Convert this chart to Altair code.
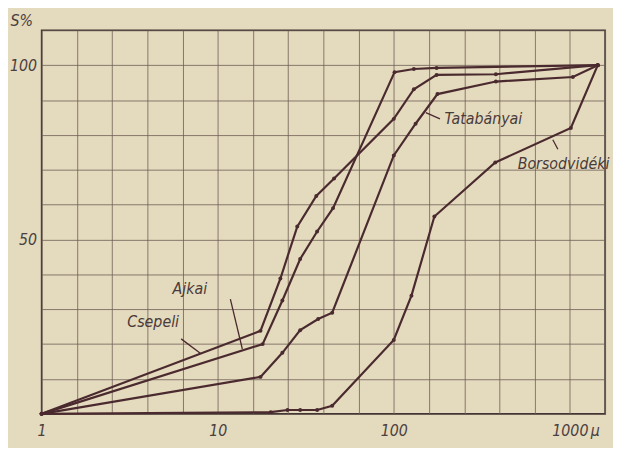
import altair as alt
import pandas as pd

# ---- data (particle size in micron, S %) ----
ajkai_x = [1, 18, 23.3, 29.4, 36.7, 45.2, 101, 130, 175, 1440]
ajkai_y = [0, 20.0, 32.5, 44.4, 52.3, 59.0, 98.0, 98.9, 99.2, 100]

csepeli_x = [1, 17.5, 22.7, 28.3, 36.3, 45.8, 100, 130, 175, 380, 1440]
csepeli_y = [0, 23.8, 38.8, 53.7, 62.5, 67.5, 84.6, 93.1, 97.2, 97.4, 100]

tatab_x = [1, 17.5, 23.3, 29.4, 37.2, 44.7, 100, 133, 177, 380, 1040, 1440]
tatab_y = [0, 10.6, 17.5, 24.0, 27.2, 29.0, 74.1, 83.2, 91.7, 95.3, 96.6, 100]

borsod_x = [1, 20, 24.9, 29.4, 36.7, 44.7, 100, 126, 170, 377, 1013, 1440]
borsod_y = [0, 0.5, 1.1, 1.1, 1.1, 2.3, 21.2, 33.9, 56.6, 72.1, 82.0, 100]

series_names = ["Ajkai", "Csepeli", "Tatabányai", "Borsodvidéki"]
series_x = [ajkai_x, csepeli_x, tatab_x, borsod_x]
series_y = [ajkai_y, csepeli_y, tatab_y, borsod_y]

# labels and their leader lines (data coordinates)
label_text = ["Ajkai", "Csepeli", "Tatabányai", "Borsodvidéki"]
label_x = [6.95, 4.3, 194, 505]
label_y = [35.7, 26.3, 84.4, 71.7]
label_align = ["center", "center", "left", "left"]

leader_x1 = [11.8, 6.2, 152, 800]
leader_y1 = [32.9, 21.5, 86.4, 78.6]
leader_x2 = [13.8, 8.0, 183, 855]
leader_y2 = [18.6, 17.3, 84.6, 75.9]

tick_values = [1, 10, 100, 1000]

x_grid = [10 ** (k / 5) for k in range(17)]
y_grid = list(range(0, 111, 10))

# ---- tables ----
rows = []
for name, xs, ys in zip(series_names, series_x, series_y):
    for i, (xv, yv) in enumerate(zip(xs, ys)):
        rows.append({"series": name, "d": xv, "s": yv, "order": i})
df = pd.DataFrame(rows)

labels = pd.DataFrame({"text": label_text, "d": label_x, "s": label_y, "align": label_align})
leaders = pd.DataFrame({"d": leader_x1, "s": leader_y1, "d2": leader_x2, "s2": leader_y2})
mu = pd.DataFrame({"d": [tick_values[-1]], "s": [0]})

INK = "#4a2a2e"
FONT = "DejaVu Sans Condensed, DejaVu Sans, Liberation Sans, sans-serif"
GRID = "#6e5e55"

xscale = alt.Scale(type="log", domain=[1, 10 ** 3.2], nice=False)
yscale = alt.Scale(domain=[0, 110], nice=False, zero=True)

xaxis = alt.Axis(
    values=x_grid, grid=True, ticks=False, domain=False, title=None,
    labelExpr="abs(log(datum.value)/LN10 - round(log(datum.value)/LN10)) < 0.001 ? format(datum.value, '.0f') : ''",
    labelOverlap=False, labelFlush=False, labelFont=FONT, labelFontStyle="italic",
    labelFontSize=16, labelColor="#4a4040", labelPadding=9,
    gridColor=GRID, gridWidth=1, gridOpacity=0.8,
)
yaxis = alt.Axis(
    values=y_grid, grid=True, ticks=False, domain=False,
    title="S%", titleAngle=0, titleAlign="left", titleX=-32, titleY=-10,
    titleFont=FONT, titleFontStyle="italic", titleFontWeight="normal",
    titleFontSize=16, titleColor="#4a4040", titleBaseline="middle",
    labelExpr="datum.value == 50 || datum.value == 100 ? datum.label : ''",
    labelOverlap=False, labelFlush=False,
    labelFont=FONT, labelFontStyle="italic", labelFontSize=16,
    labelColor="#4a4040", labelPadding=5,
    gridColor=GRID, gridWidth=1, gridOpacity=0.8,
)

X = alt.X("d:Q", scale=xscale, axis=xaxis)
Y = alt.Y("s:Q", scale=yscale, axis=yaxis)

base = alt.Chart(df)

lines = base.mark_line(color=INK, strokeWidth=2.2).encode(
    x=X, y=Y, detail="series:N", order="order:Q",
)
points = base.mark_circle(color=INK, size=16, opacity=1).encode(x=X, y=Y)

lead = alt.Chart(leaders).mark_rule(color=INK, strokeWidth=1.3).encode(
    x=X, y=Y, x2="d2:Q", y2="s2:Q",
)

txt_center = alt.Chart(labels).transform_filter("datum.align == 'center'").mark_text(
    font=FONT, fontStyle="italic", fontSize=16, color="#4a3a3a", align="center", baseline="middle"
).encode(x=X, y=Y, text="text:N")

txt_left = alt.Chart(labels).transform_filter("datum.align == 'left'").mark_text(
    font=FONT, fontStyle="italic", fontSize=16, color="#4a3a3a", align="left", baseline="middle"
).encode(x=X, y=Y, text="text:N")

mu_text = alt.Chart(mu).mark_text(
    text="μ", font=FONT, fontStyle="italic", fontSize=16, color="#4a4040",
    align="left", baseline="top", dx=21, dy=9,
).encode(x=X, y=Y)

chart = alt.layer(lines, points, lead, txt_center, txt_left, mu_text).properties(
    width=570, height=388,
    autosize=alt.AutoSizeParams(type="none"),
    padding={"left": 34, "top": 20, "right": 8, "bottom": 32},
    background="#e4dabe",
).configure_view(
    stroke="#3e3232", strokeWidth=1.6, fill="#e4dabe"
)

chart.save("out.html", embed_options={"renderer": "svg", "actions": False})
